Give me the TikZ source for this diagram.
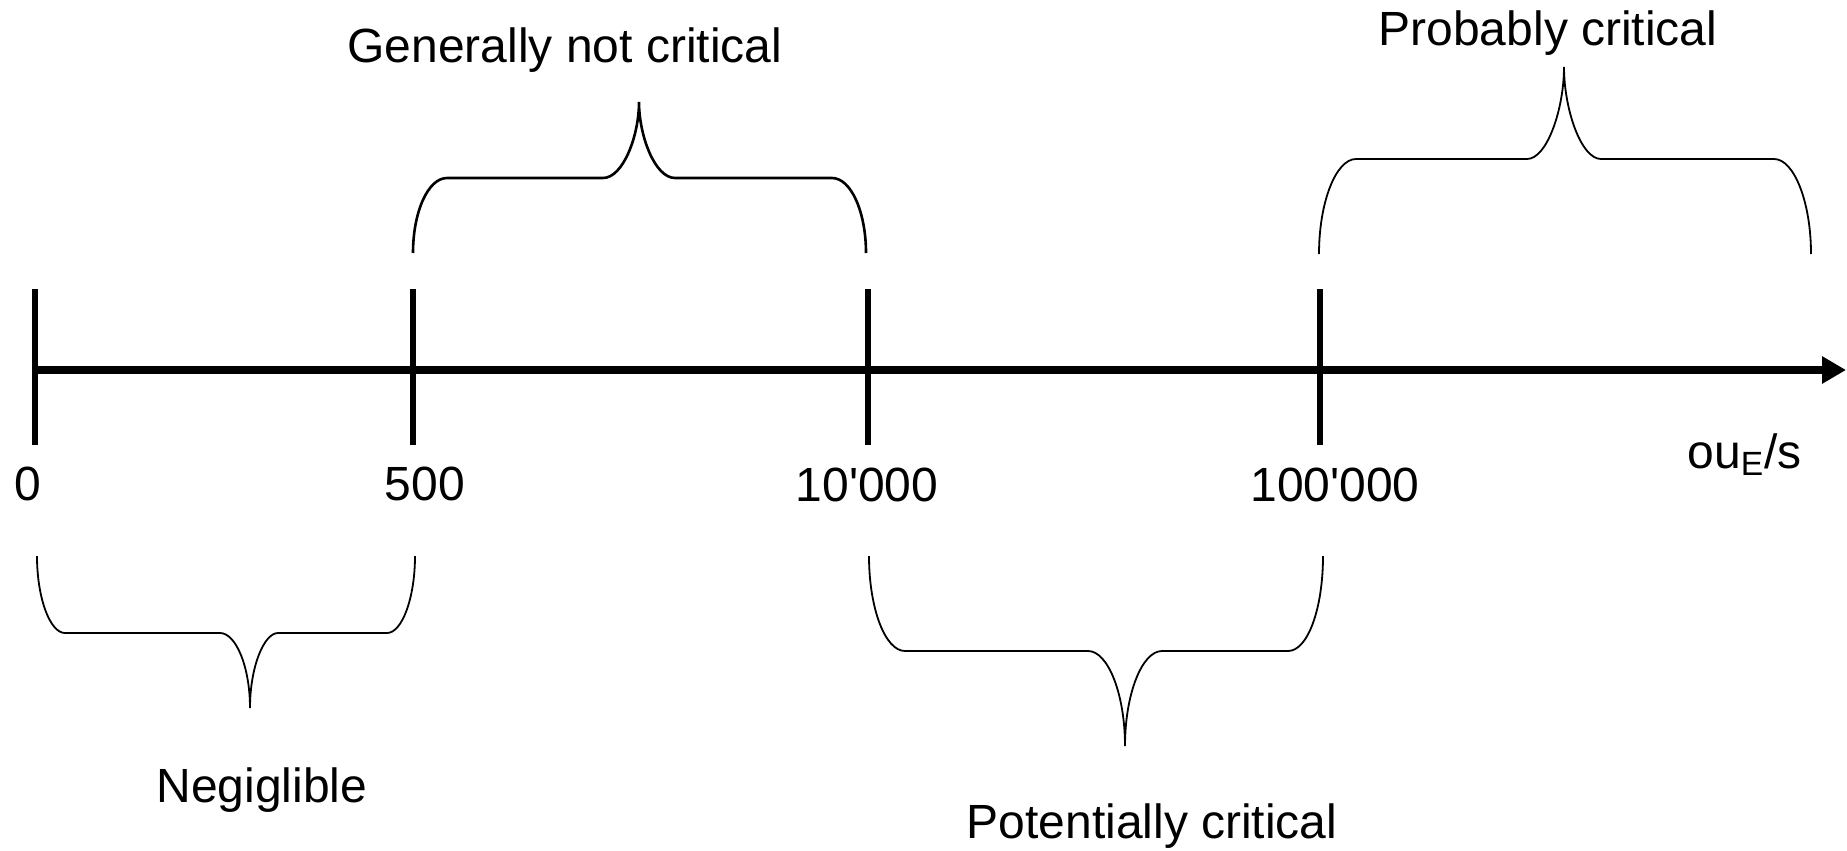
\documentclass[tikz,border=0pt]{standalone}
\usepackage{fontspec}
\setmainfont{Liberation Sans}
\usetikzlibrary{arrows.meta}
\begin{document}
\begin{tikzpicture}[x=0.5pt,y=-0.5pt,
  lbl/.style={anchor=base,inner sep=0pt,font=\fontsize{24}{28}\selectfont},
  tick/.style={line width=2.6pt},
  axis/.style={line width=4.1pt,-{Triangle[length=12pt,width=13pt]}},
  bracethick/.style={line width=1.3pt},
  bracethin/.style={line width=0.9pt}]
\useasboundingbox (0,0) rectangle (1847,851);
% axis
\coordinate (a0) at (32,370);
\coordinate (a1) at (1846,370);
\draw[axis] (a0) -- (a1);
% ticks
\coordinate (t0a) at (35,289);   \coordinate (t0b) at (35,445);
\coordinate (t1a) at (413,289);  \coordinate (t1b) at (413,445);
\coordinate (t2a) at (868,289);  \coordinate (t2b) at (868,445);
\coordinate (t3a) at (1320,289); \coordinate (t3b) at (1320,445);
\draw[tick] (t0a) -- (t0b);
\draw[tick] (t1a) -- (t1b);
\draw[tick] (t2a) -- (t2b);
\draw[tick] (t3a) -- (t3b);
% tick labels
\node[lbl] (l0) at (28,500) {0};
\node[lbl] (l1) at (425,500) {500};
\node[lbl] (l2) at (867,501) {10\textquotesingle 000};
\node[lbl] (l3) at (1335,501) {100\textquotesingle 000};
\node[lbl,anchor=base east] (unit) at (1802,468) {ou\textsubscript{E}/s};
% braces
\draw[bracethick] (413,253) .. controls (413,212) and (428,178) .. (447,178) -- (603,178)
  .. controls (623,178) and (639,136) .. (639,102)
  .. controls (639,136) and (655,178) .. (675,178) -- (832,178)
  .. controls (851,178) and (866,212) .. (866,253);
\draw[bracethin] (1319,254) .. controls (1319,202) and (1336,159) .. (1356,159) -- (1527,159)
  .. controls (1547,159) and (1564,109) .. (1564,67)
  .. controls (1564,109) and (1581,159) .. (1601,159) -- (1774,159)
  .. controls (1794,159) and (1811,202) .. (1811,254);
\draw[bracethin] (37,556) .. controls (37,598) and (50,633) .. (65,633) -- (220,633)
  .. controls (236,633) and (250,667) .. (250,708)
  .. controls (250,667) and (264,633) .. (278,633) -- (387,633)
  .. controls (402,633) and (415,598) .. (415,556);
\draw[bracethin] (869,556) .. controls (869,608) and (885,651) .. (905,651) -- (1088,651)
  .. controls (1108,651) and (1125,694) .. (1125,746)
  .. controls (1125,694) and (1142,651) .. (1162,651) -- (1288,651)
  .. controls (1308,651) and (1323,608) .. (1323,556);
% brace labels
\node[lbl] (gen) at (565,62) {Generally not critical};
\node[lbl] (prob) at (1548,45) {Probably critical};
\node[lbl] (neg) at (262,802) {Negiglible};
\node[lbl] (pot) at (1152,838) {Potentially critical};
\end{tikzpicture}
\end{document}
